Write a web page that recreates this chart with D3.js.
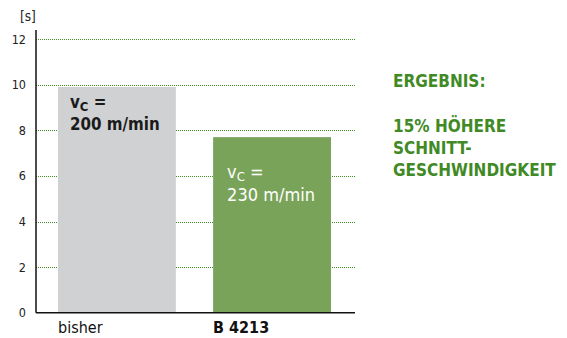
<!DOCTYPE html>
<html><head><meta charset="utf-8">
<script src="https://cdn.jsdelivr.net/npm/d3@7"></script>
<style>body{margin:0;background:#fff}svg{display:block}</style>
</head><body>
<svg id="c" width="567" height="338"></svg>
<script>
const categories = ["bisher", "B 4213"];
const values = [9.9, 7.7];
const speeds = ["200 m/min", "230 m/min"];
const yTicks = [0, 2, 4, 6, 8, 10, 12];
const unitLabel = "[s]";
const resultLines = ["ERGEBNIS:", "", "15% HÖHERE", "SCHNITT-", "GESCHWINDIGKEIT"];

const font = "'DejaVu Sans Condensed','DejaVu Sans',sans-serif";
const svg = d3.select("#c");
const x0 = 36, x1 = 355, yTop = 39.1, yBot = 312.7;
const y = d3.scaleLinear().domain([0, 12]).range([yBot, yTop]);
const x = d3.scaleBand().domain(categories).range([58, 331]).paddingInner(0.24);

// gridlines
svg.append("g").selectAll("line").data(yTicks.filter(d => d > 0)).join("line")
  .attr("x1", x0).attr("x2", x1).attr("y1", d => Math.round(y(d)) + 0.5).attr("y2", d => Math.round(y(d)) + 0.5)
  .attr("stroke", "#3f8f22").attr("stroke-width", 1).attr("stroke-dasharray", "1,1");

// bars
const colors = ["#d0d1d3", "#7aa35a"];
svg.append("g").selectAll("rect").data(values).join("rect")
  .attr("x", (d, i) => x(categories[i]))
  .attr("width", x.bandwidth())
  .attr("y", d => y(d)).attr("height", d => yBot - y(d))
  .attr("fill", (d, i) => colors[i]);

// y axis
const yAxis = d3.axisLeft(y).tickValues(yTicks).tickSize(0).tickPadding(10);
const ga = svg.append("g").attr("transform", `translate(${x0},0)`).call(yAxis);
ga.select(".domain").remove();
ga.selectAll("text").attr("font-family", font).attr("font-size", 12.5).attr("fill", "#222");
svg.append("line").attr("x1", x0).attr("x2", x0).attr("y1", yTop - 9).attr("y2", yBot)
  .attr("stroke", "#111").attr("stroke-width", 1.5);
svg.append("line").attr("x1", x0).attr("x2", x1).attr("y1", yBot).attr("y2", yBot)
  .attr("stroke", "#111").attr("stroke-width", 1.5);
svg.append("text").attr("x", 20).attr("y", 21).text(unitLabel)
  .attr("font-family", font).attr("font-size", 13.5).attr("fill", "#222");

// category labels
svg.append("g").selectAll("text").data(categories).join("text")
  .attr("x", d => x(d)).attr("y", 333)
  .attr("font-family", font).attr("font-size", 16)
  .attr("font-weight", (d, i) => i === 1 ? "bold" : "normal")
  .attr("fill", "#111").text(d => d);

// bar annotations
const textColors = ["#1a1a1a", "#ffffff"];
values.forEach((v, i) => {
  const bx = x(categories[i]) + (i === 0 ? 12 : 14);
  const by = y(v) + (i === 0 ? 21 : 41);
  const g = svg.append("g").attr("font-family", font).attr("font-size", i === 0 ? 16.8 : 18)
    .attr("font-weight", i === 0 ? "bold" : "normal").attr("fill", textColors[i]);
  const t = g.append("text").attr("x", bx).attr("y", by);
  t.append("tspan").text("v");
  t.append("tspan").attr("font-size", 13).attr("dy", 3).text("C");
  t.append("tspan").attr("dy", -3).text(" =");
  g.append("text").attr("x", bx).attr("y", by + 22.5).text(speeds[i]);
});

// result text
svg.append("g").selectAll("text").data(resultLines).join("text")
  .attr("x", 393).attr("y", (d, i) => 87 + i * 22.3)
  .attr("font-family", font).attr("font-size", 17).attr("font-weight", "bold")
  .attr("fill", "#3f8a25").text(d => d);
</script>
</body></html>
